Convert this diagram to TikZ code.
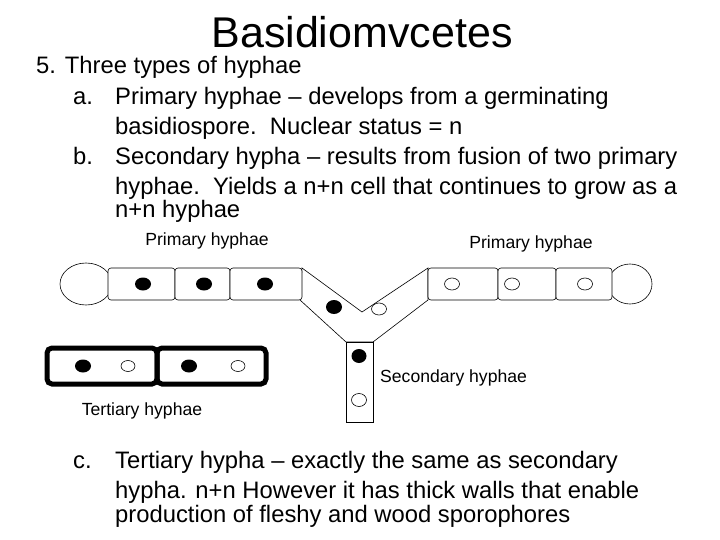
\documentclass[tikz,border=0pt]{standalone}
\usepackage{fontspec}
\setmainfont{Liberation Sans}
\begin{document}
\begin{tikzpicture}[x=1pt,y=-1pt,
  body/.style={anchor=base west,inner sep=0,font=\fontsize{23.8}{24}\selectfont},
  lbl/.style={inner sep=0,font=\fontsize{17.6}{18}\selectfont},
  wall/.style={draw,line width=0.6pt}]
\useasboundingbox (0,0) rectangle (720,540);
\node[inner sep=0,anchor=base,font=\fontsize{43}{44}\selectfont] (title) at (362,48) {Basidiomvcetes};
\node[body] (l1) at (36,74) {5. Three types of hyphae};
\node[body] (a) at (73,105) {a.};
\node[body] (a1) at (115,105) {Primary hyphae -- develops from a germinating};
\node[body] (a2) at (115,135) {basidiospore.\ \ Nuclear status = n};
\node[body] (b) at (73,165) {b.};
\node[body] (b1) at (115,165) {Secondary hypha -- results from fusion of two primary};
\node[body] (b2) at (115,195) {hyphae.\ \ Yields a n+n cell that continues to grow as a};
\node[body] (b3) at (115,218) {n+n hyphae};
\node[body] (c) at (73,468) {c.};
\node[body] (c1) at (115,468) {Tertiary hypha -- exactly the same as secondary};
\node[body] (c2) at (115,498) {hypha. n+n However it has thick walls that enable};
\node[body] (c3) at (115,522) {production of fleshy and wood sporophores};
\node[lbl] (p1) at (207,241) {Primary hyphae};
\node[lbl] (p2) at (531,244) {Primary hyphae};
\node[lbl,anchor=west] (sec) at (380,378) {Secondary hyphae};
\node[lbl] (ter) at (142,411) {Tertiary hyphae};
% spores
\draw[wall] (86,284) ellipse (26 and 21);
\draw[wall] (630,284) ellipse (22 and 20);
% junction
\draw[wall,fill=white] (302,268) -- (362,312) -- (428,268) -- (428,300) -- (373,342) -- (346,342) -- (300,300) -- cycle;
\draw[wall,fill=white] (346,342) rectangle (373,422);
% left arm cells
\draw[wall,fill=white,rounded corners=3] (108,268) rectangle (175,300);
\draw[wall,fill=white,rounded corners=3] (175,268) rectangle (230,300);
\draw[wall,fill=white,rounded corners=3] (230,268) rectangle (302,300);
% right arm cells
\draw[wall,fill=white,rounded corners=3] (428,268) rectangle (498,300);
\draw[wall,fill=white,rounded corners=3] (498,268) rectangle (556,300);
\draw[wall,fill=white,rounded corners=3] (556,268) rectangle (612,300);
% nuclei
\fill (143,284) ellipse (8 and 6.5);
\fill (204,284) ellipse (8 and 6.5);
\fill (265,284) ellipse (8 and 6.5);
\draw[wall] (452,284) ellipse (7.5 and 6);
\draw[wall] (512,284) ellipse (7.5 and 6);
\draw[wall] (585,284) ellipse (7.5 and 6);
\fill (334,307) ellipse (8 and 7);
\draw[wall] (379,309) ellipse (7.5 and 6);
\fill (359,356) ellipse (7.5 and 7);
\draw[wall] (359,400) ellipse (7.5 and 6.5);
% tertiary
\draw[line width=5pt,rounded corners=5] (47,348) rectangle (157,384);
\draw[line width=5pt,rounded corners=5] (157,348) rectangle (266,384);
\fill (83,366) ellipse (8 and 6.5);
\draw[wall] (128,366) ellipse (7 and 5.5);
\fill (189,366) ellipse (8 and 6.5);
\draw[wall] (238,366) ellipse (7 and 5.5);
\end{tikzpicture}
\end{document}
